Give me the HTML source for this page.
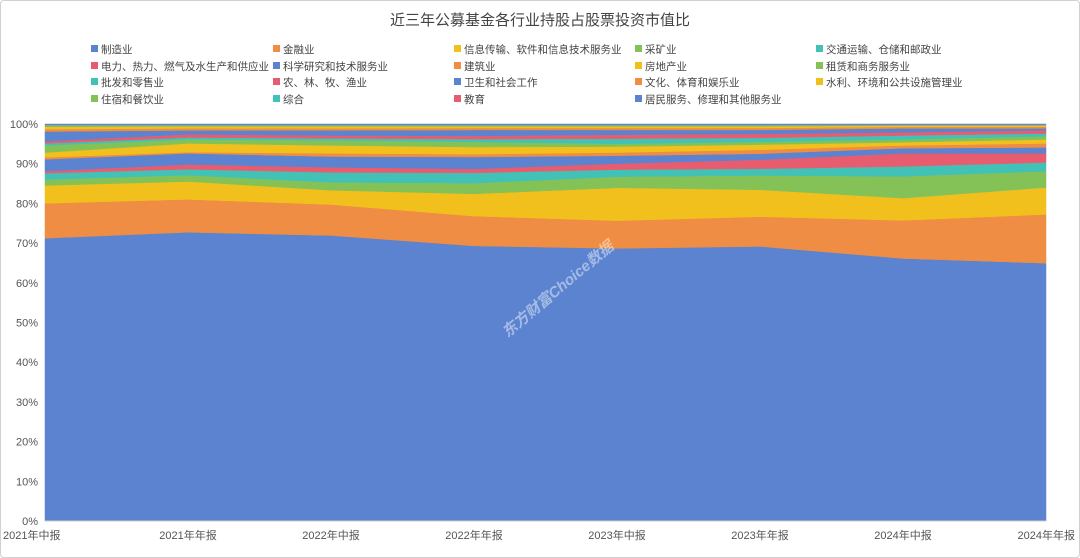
<!DOCTYPE html>
<html><head><meta charset="utf-8"><style>
body{margin:0;background:#fff;}
#wrap{position:relative;width:1078px;height:556px;border:1px solid #d0d0d0;border-radius:4px;overflow:hidden;font-family:"Liberation Sans","Noto Sans CJK SC",sans-serif;}
svg text{font-family:"Liberation Sans","Noto Sans CJK SC",sans-serif;}
</style></head><body>
<div id="wrap">
<svg id="chart" width="1078" height="556"></svg>
</div>
<script>
const categories=["2021年中报","2021年年报","2022年中报","2022年年报","2023年中报","2023年年报","2024年中报","2024年年报"];
const seriesNames=["制造业","金融业","信息传输、软件和信息技术服务业","采矿业","交通运输、仓储和邮政业","电力、热力、燃气及水生产和供应业","科学研究和技术服务业","建筑业","房地产业","租赁和商务服务业","批发和零售业","农、林、牧、渔业","卫生和社会工作","文化、体育和娱乐业","水利、环境和公共设施管理业","住宿和餐饮业","综合","教育","居民服务、修理和其他服务业"];
const colors=["#5b83d0","#ee8d43","#f2c01d","#84c257","#42c2b6","#e75d6f","#5b83d0","#ee8d43","#f2c01d","#84c257","#42c2b6","#e75d6f","#5b83d0","#ee8d43","#f2c01d","#84c257","#42c2b6","#e75d6f","#5b83d0"];
const s0=[71.3,72.8,72.0,69.3,68.8,69.3,66.2,65.0];
const s1=[8.8,8.3,7.8,7.5,7.0,7.5,9.6,12.3];
const s2=[4.5,4.5,3.6,5.6,8.3,6.8,5.6,6.8];
const s3=[1.5,1.6,2.0,2.7,2.8,3.6,5.5,4.1];
const s4=[1.6,1.5,2.5,2.6,1.8,1.7,2.5,2.2];
const s5=[0.5,1.2,1.3,1.0,1.5,2.3,3.3,2.3];
const s6=[3.0,2.8,2.7,3.0,2.0,1.5,1.3,1.5];
const s7=[0.5,0.3,0.8,0.7,0.8,1.0,0.7,1.0];
const s8=[1.2,2.2,2.0,1.8,1.5,1.3,0.8,1.0];
const s9=[1.8,1.0,1.3,1.3,0.7,0.7,0.7,0.8];
const s10=[0.5,0.5,0.5,0.7,1.3,1.0,1.0,0.7];
const s11=[0.5,0.8,0.7,0.8,1.0,1.0,0.8,0.8];
const s12=[2.5,1.0,1.3,1.5,1.2,1.0,1.0,0.5];
const s13=[0.6,0.5,0.5,0.5,0.5,0.5,0.4,0.4];
const s14=[0.6,0.5,0.5,0.4,0.4,0.4,0.3,0.3];
const s15=[0.3,0.2,0.2,0.2,0.2,0.2,0.1,0.1];
const s16=[0.2,0.2,0.2,0.2,0.2,0.2,0.1,0.1];
const s17=[0.1,0.1,0.1,0.1,0.1,0.1,0.1,0.1];
const s18=[0.1,0.1,0.1,0.1,0.1,0.1,0.1,0.1];
const series=[s0,s1,s2,s3,s4,s5,s6,s7,s8,s9,s10,s11,s12,s13,s14,s15,s16,s17,s18];
const yTicks=[0,10,20,30,40,50,60,70,80,90,100];

const NS="http://www.w3.org/2000/svg";
const svg=document.getElementById('chart');
const X0=44,X1=1045,Y0=520,Y1=123;
const xs=i=>X0+(X1-X0)*i/(categories.length-1);
const ys=v=>Y0-(Y0-Y1)*v/100;
function mk(t,a,p){const e=document.createElementNS(NS,t);for(const k in a)e.setAttribute(k,a[k]);(p||svg).appendChild(e);return e;}

const title=mk('text',{x:539,y:24,'text-anchor':'middle','font-size':15,fill:'#444'});


title.textContent='近三年公募基金各行业持股占股票投资市值比';

const totals=categories.map((c,i)=>series.reduce((s,a)=>s+a[i],0));
let cum=categories.map(()=>0);
series.forEach((arr,si)=>{
  const lower=cum.slice();
  const upper=cum.map((v,i)=>v+arr[i]/totals[i]*100);
  let d='';
  upper.forEach((v,i)=>{d+=(i?'L':'M')+xs(i)+','+ys(v)+' ';});
  for(let i=lower.length-1;i>=0;i--)d+='L'+xs(i)+','+ys(lower[i])+' ';
  const p=mk('path',{d:d+'Z',fill:colors[si],stroke:colors[si],'stroke-width':0.5});
  
  
  cum=upper;
});

yTicks.forEach(v=>{
  const t=mk('text',{x:37,y:ys(v)+4,'text-anchor':'end','font-size':11,fill:'#555'});
  
  
  t.textContent=v+'%';
});
mk('line',{x1:X0,y1:Y0,x2:X1,y2:Y0,stroke:'#ccc'});
categories.forEach((c,i)=>{
  let anchor=i==0?'start':(i==categories.length-1?'end':'middle');
  let x=i==0?2:(i==categories.length-1?1074:xs(i));
  const t=mk('text',{x:x,y:538,'text-anchor':anchor,'font-size':11,fill:'#555'});
  
  
  t.textContent=c;
});

const wm=mk('text',{x:560,y:292,'text-anchor':'middle','font-size':15,fill:'rgba(255,255,255,0.45)','font-weight':'bold','font-style':'italic',transform:'rotate(-40 560 292)'});


wm.textContent='东方财富Choice数据';

const colX=[90,272,453,634,815],rowY=[48,65,81,98];
seriesNames.forEach((n,i)=>{
  const g=mk('g',{});
  
  
  const x=colX[i%5],y=rowY[Math.floor(i/5)];
  mk('rect',{x:x,y:y-4,width:7,height:7,fill:colors[i]},g);
  const t=mk('text',{x:x+10,y:y+4,'font-size':10.5,fill:'#444'},g);
  t.textContent=n;
});
</script>
</body></html>
